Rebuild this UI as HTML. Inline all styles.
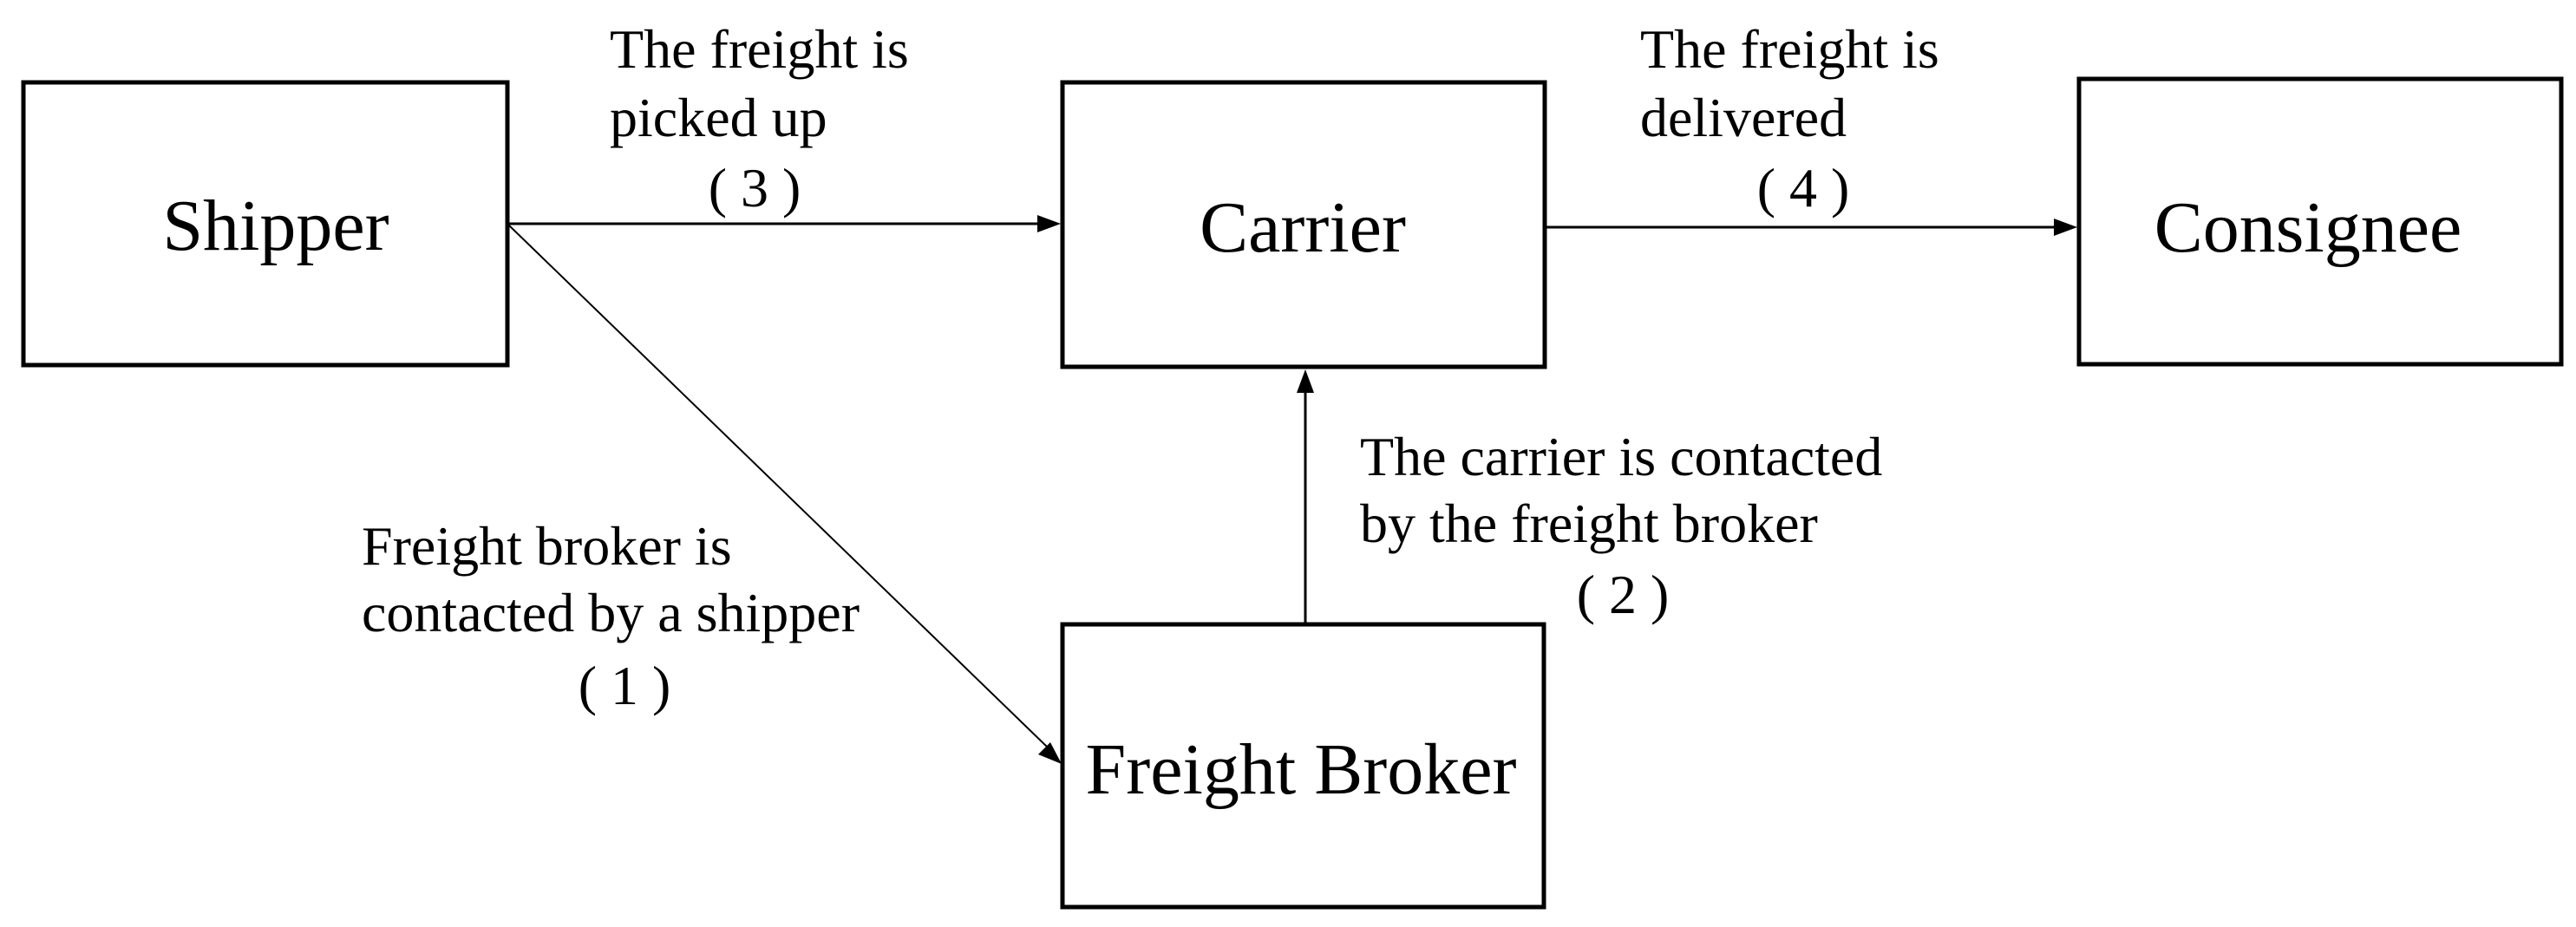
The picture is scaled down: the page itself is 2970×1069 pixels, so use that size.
<!DOCTYPE html>
<html><head><meta charset="utf-8"><style>
html,body{margin:0;padding:0;background:#fff;}
svg{display:block;}
text{font-family:"Liberation Serif",serif;fill:#000;}
</style></head><body>
<svg width="2970" height="1069" viewBox="0 0 2970 1069" xmlns="http://www.w3.org/2000/svg">
<g fill="none" stroke="#000" stroke-width="5">
<rect x="27" y="95" width="558" height="326"/>
<rect x="1225" y="95" width="556" height="328"/>
<rect x="2397" y="91" width="556" height="329"/>
<rect x="1225" y="720" width="555" height="326"/>
</g>
<g stroke="#000" stroke-width="3">
<line x1="587" y1="258" x2="1200" y2="258"/>
<line x1="1783" y1="262" x2="2372" y2="262"/>
<line x1="1505" y1="718" x2="1505" y2="450"/>
</g>
<line x1="587" y1="260" x2="1208" y2="862" stroke="#000" stroke-width="2"/>
<g fill="#000">
<polygon points="1223,258 1196,248 1196,268"/>
<polygon points="2395,262 2368,252 2368,272"/>
<polygon points="1505,426 1495,453 1515,453"/>
<polygon points="1224,881 1197,870 1211,856"/>
</g>
<g font-size="84">
<text x="318" y="288" text-anchor="middle">Shipper</text>
<text x="1502" y="290" text-anchor="middle">Carrier</text>
<text x="2661" y="290" text-anchor="middle">Consignee</text>
<text x="1500" y="915" text-anchor="middle">Freight Broker</text>
</g>
<g font-size="64">
<text x="703" y="78">The freight is</text>
<text x="703" y="157">picked up</text>
<text x="870" y="238" text-anchor="middle">( 3 )</text>
<text x="1891" y="78">The freight is</text>
<text x="1891" y="157">delivered</text>
<text x="2079" y="238" text-anchor="middle">( 4 )</text>
<text x="417" y="651">Freight broker is</text>
<text x="417" y="728">contacted by a shipper</text>
<text x="720" y="812" text-anchor="middle">( 1 )</text>
<text x="1568" y="548">The carrier is contacted</text>
<text x="1568" y="625">by the freight broker</text>
<text x="1871" y="707" text-anchor="middle">( 2 )</text>
</g>
</svg>
</body></html>
